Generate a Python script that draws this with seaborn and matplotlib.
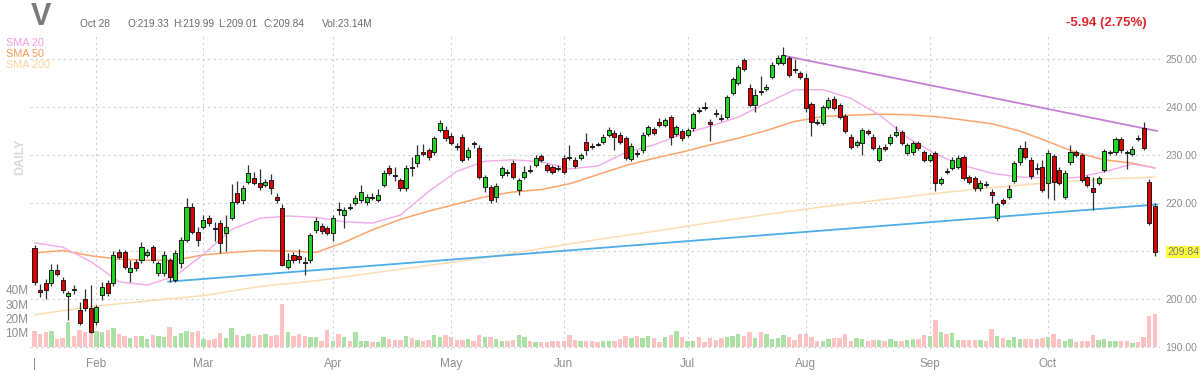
import numpy as np
import pandas as pd
import matplotlib
matplotlib.use("Agg")
import matplotlib.pyplot as plt
import seaborn as sns

# ---------------- data ----------------
ticker = "V"
start_date, end_date = "2021-01-14", "2021-10-28"
holidays = ["2021-01-18", "2021-02-15", "2021-04-02", "2021-05-31", "2021-07-05", "2021-09-06"]

opens = [210.6, 201.8, 203.3, 203.3, 206.0, 204.0, 200.6, 202.0, 197.7, 200.0,
         198.1, 195.2, 200.8, 203.3, 203.3, 209.8, 209.8, 205.6, 207.7, 208.1,
         209.2, 210.8, 205.4, 205.4, 208.1, 204.0, 207.5, 212.3, 219.2, 214.0,
         215.0, 216.9, 214.8, 215.8, 213.8, 216.9, 222.1, 220.6, 224.4, 225.2,
         224.2, 223.8, 224.8, 221.3, 219.0, 206.7, 209.2, 209.0, 207.8, 208.1,
         214.4, 215.2, 214.8, 213.8, 218.8, 217.5, 219.2, 220.0, 220.6, 220.2,
         221.3, 220.6, 223.8, 227.3, 225.8, 224.8, 223.1, 227.5, 228.3, 230.6,
         231.0, 230.6, 235.2, 235.2, 234.0, 231.8, 233.8, 229.6, 232.4, 231.5,
         223.3, 223.3, 221.3, 225.8, 226.4, 228.3, 222.7, 225.4, 226.9, 227.9,
         229.8, 227.9, 227.5, 227.3, 229.4, 229.6, 229.0, 229.4, 232.7, 231.9,
         232.3, 232.7, 234.2, 234.6, 234.2, 233.5, 229.2, 230.4, 231.0, 234.4,
         235.4, 236.9, 236.3, 237.9, 234.4, 235.0, 234.2, 235.6, 239.4, 240.0,
         236.9, 238.8, 237.7, 237.9, 242.9, 245.0, 249.8, 244.0, 240.4, 243.3,
         243.8, 246.3, 249.2, 249.2, 250.2, 247.9, 247.1, 246.0, 240.6, 236.9,
         236.7, 240.0, 241.7, 240.4, 238.1, 233.8, 232.1, 232.5, 235.0, 233.8,
         229.0, 231.7, 232.5, 234.2, 234.8, 230.4, 230.6, 232.5, 230.6, 229.0,
         230.4, 224.2, 226.7, 227.3, 227.5, 229.6, 225.4, 225.2, 223.1, 224.0,
         222.3, 216.9, 220.6, 221.3, 224.6, 228.5, 231.5, 229.0, 227.3, 227.5,
         224.2, 229.8, 226.9, 221.3, 228.5, 230.6, 230.0, 225.4, 223.1, 224.2,
         226.9, 230.4, 230.6, 233.3, 230.6, 230.2, 233.6, 235.6, 224.4, 219.33]
highs = [211.2, 203.2, 204.2, 207.3, 207.2, 204.5, 201.6, 203.0, 199.4, 202.0,
         202.9, 198.8, 203.5, 204.0, 210.0, 210.4, 210.3, 208.1, 208.4, 211.8,
         210.4, 211.3, 208.0, 210.0, 208.6, 210.2, 213.0, 221.0, 220.0, 215.0,
         217.5, 217.5, 216.0, 216.5, 217.5, 224.0, 224.5, 223.8, 228.0, 226.5,
         227.0, 225.0, 226.0, 222.0, 219.8, 209.5, 209.8, 210.5, 208.8, 213.8,
         217.0, 215.8, 215.3, 217.6, 220.3, 219.2, 220.0, 221.6, 223.8, 221.8,
         222.0, 223.0, 226.9, 228.0, 227.5, 225.3, 227.9, 229.6, 232.0, 232.3,
         231.5, 234.0, 237.3, 236.0, 234.6, 232.4, 234.3, 231.6, 233.0, 232.0,
         225.9, 223.8, 224.1, 227.8, 227.0, 228.9, 225.3, 227.8, 228.0, 229.9,
         230.3, 228.4, 228.0, 227.9, 229.9, 232.0, 229.5, 230.5, 234.5, 232.4,
         232.8, 234.3, 235.8, 235.3, 234.7, 234.0, 232.4, 231.0, 234.7, 236.3,
         235.9, 237.8, 237.8, 238.4, 236.3, 235.5, 235.7, 239.0, 240.0, 241.0,
         237.4, 239.5, 238.5, 242.6, 246.3, 248.8, 250.3, 244.8, 243.8, 246.5,
         244.7, 249.3, 250.8, 252.5, 250.7, 250.0, 247.6, 247.0, 241.1, 237.6,
         240.5, 242.0, 242.2, 240.9, 238.6, 234.3, 233.2, 235.7, 235.5, 234.3,
         232.0, 232.2, 234.3, 236.0, 235.3, 232.6, 233.0, 233.0, 231.1, 230.5,
         230.9, 225.5, 227.2, 229.5, 229.9, 230.1, 225.9, 225.7, 224.7, 224.5,
         223.0, 220.3, 221.1, 223.8, 228.8, 232.0, 232.9, 229.5, 228.3, 229.0,
         231.0, 230.3, 227.4, 226.8, 232.0, 231.1, 230.5, 225.9, 225.4, 225.7,
         231.3, 231.1, 233.8, 233.8, 231.1, 231.8, 234.1, 236.9, 224.9, 219.99]
lows = [203.0, 200.4, 200.0, 202.8, 204.8, 201.3, 195.6, 201.0, 194.6, 197.5,
        192.9, 194.6, 199.8, 200.6, 202.8, 208.3, 206.3, 203.5, 205.9, 207.6,
        208.7, 207.6, 204.8, 204.8, 203.6, 203.5, 206.5, 211.8, 213.5, 211.0,
        214.5, 215.3, 212.0, 209.5, 210.0, 216.5, 219.8, 219.8, 224.0, 223.8,
        222.8, 223.3, 221.8, 220.0, 206.8, 206.2, 207.6, 207.5, 205.0, 207.6,
        213.8, 213.5, 213.3, 212.0, 217.5, 214.8, 218.5, 219.5, 220.0, 219.6,
        220.6, 220.2, 223.3, 225.8, 224.5, 222.6, 222.6, 225.6, 227.5, 229.8,
        229.0, 230.1, 234.7, 233.0, 232.0, 231.0, 228.5, 229.0, 231.5, 225.0,
        222.2, 220.0, 220.3, 225.3, 225.6, 224.9, 221.6, 225.0, 226.2, 227.4,
        228.5, 226.4, 226.0, 226.7, 226.0, 229.0, 227.3, 228.9, 230.0, 231.2,
        231.8, 232.2, 233.7, 231.0, 232.2, 228.9, 228.7, 229.6, 230.5, 233.9,
        234.1, 235.8, 235.8, 232.0, 233.9, 233.0, 233.7, 235.1, 238.7, 239.3,
        233.0, 238.0, 237.0, 237.4, 242.4, 244.5, 247.4, 239.9, 239.0, 242.5,
        243.3, 245.8, 248.7, 248.7, 246.2, 247.0, 245.8, 239.0, 234.0, 236.2,
        236.2, 239.5, 239.3, 237.4, 234.5, 231.2, 231.6, 230.0, 234.1, 231.0,
        228.5, 230.8, 232.0, 233.7, 232.0, 229.9, 230.1, 231.0, 228.5, 228.5,
        222.5, 223.7, 226.0, 226.8, 227.0, 224.7, 223.9, 222.6, 222.6, 223.3,
        220.0, 216.3, 219.5, 220.8, 224.1, 228.0, 229.1, 225.1, 226.0, 222.2,
        221.0, 220.6, 223.7, 220.8, 228.0, 229.5, 224.3, 223.3, 218.5, 223.7,
        226.4, 229.9, 230.1, 230.5, 227.0, 229.7, 232.9, 231.0, 215.4, 209.01]
closes = [203.5, 201.5, 201.9, 206.0, 205.2, 201.9, 201.3, 201.8, 195.0, 198.1,
          193.1, 198.3, 202.5, 201.3, 209.2, 208.8, 206.7, 206.5, 206.5, 210.8,
          209.8, 208.1, 207.5, 209.2, 204.6, 209.6, 212.3, 219.2, 214.0, 212.3,
          216.5, 215.8, 214.6, 211.6, 215.0, 220.2, 220.2, 223.1, 226.3, 224.2,
          223.3, 224.4, 223.1, 220.6, 207.1, 208.1, 208.1, 208.3, 207.6, 213.3,
          216.3, 214.2, 213.8, 216.9, 218.6, 218.5, 219.0, 221.0, 222.3, 221.2,
          221.1, 221.7, 226.3, 226.3, 225.6, 223.1, 227.3, 227.3, 230.0, 230.2,
          229.6, 233.5, 236.7, 233.5, 232.5, 231.6, 229.0, 231.0, 232.2, 225.4,
          225.4, 220.6, 223.6, 227.3, 226.2, 225.4, 224.8, 226.5, 226.7, 229.4,
          229.0, 226.9, 226.5, 227.1, 226.5, 229.4, 227.8, 230.0, 231.0, 231.7,
          232.1, 233.8, 235.2, 233.8, 232.7, 229.4, 231.9, 230.2, 234.2, 235.8,
          234.6, 236.3, 237.3, 233.8, 235.8, 233.5, 235.2, 238.5, 239.2, 239.8,
          236.5, 238.6, 237.5, 242.1, 245.8, 248.3, 247.9, 240.4, 242.5, 243.1,
          244.2, 248.8, 250.2, 250.8, 246.7, 247.7, 246.3, 239.8, 236.9, 236.7,
          240.0, 241.5, 239.8, 237.9, 235.0, 231.7, 232.7, 235.2, 234.6, 231.5,
          231.5, 231.3, 233.8, 234.8, 232.5, 232.1, 232.5, 231.5, 229.0, 230.0,
          224.2, 225.0, 226.5, 229.0, 229.4, 225.2, 224.4, 223.1, 224.2, 223.8,
          221.7, 219.8, 220.0, 222.9, 228.3, 231.5, 229.6, 225.6, 227.1, 222.7,
          230.4, 224.4, 224.2, 226.3, 230.6, 230.0, 224.8, 223.8, 222.3, 225.2,
          230.8, 230.6, 233.3, 231.0, 230.4, 231.3, 233.4, 231.5, 215.78, 209.84]
volume_m = [11.4, 9.1, 10.2, 11.4, 5.7, 6.4, 17.7, 8.0, 11.8, 10.2,
            9.5, 11.4, 10.2, 11.8, 13.2, 9.1, 8.0, 6.4, 7.5, 7.5,
            5.7, 8.4, 8.0, 6.8, 14.1, 8.0, 9.5, 10.9, 10.2, 10.9,
            5.7, 5.0, 5.7, 9.5, 6.1, 13.2, 8.4, 7.5, 9.1, 8.0,
            8.6, 9.1, 8.0, 8.6, 30.0, 10.2, 8.0, 9.1, 8.0, 6.8,
            6.8, 4.5, 11.8, 4.5, 9.1, 6.8, 4.5, 10.2, 4.5, 4.5,
            3.4, 3.4, 6.8, 5.7, 5.0, 5.0, 8.0, 6.4, 5.0, 4.1,
            5.2, 8.6, 6.8, 8.6, 7.3, 5.0, 5.0, 5.7, 4.1, 8.4,
            6.8, 6.8, 5.7, 4.1, 4.5, 5.0, 8.6, 6.8, 4.5, 3.4,
            3.4, 3.4, 4.5, 4.5, 4.5, 8.4, 5.0, 4.5, 4.5, 3.9,
            3.4, 3.9, 4.1, 4.5, 5.7, 8.0, 6.1, 8.0, 6.4, 8.0,
            6.1, 3.4, 7.3, 8.4, 10.9, 6.8, 4.5, 3.9, 7.3, 3.4,
            6.1, 5.0, 6.6, 7.3, 8.0, 9.1, 8.0, 10.2, 6.6, 10.2,
            9.1, 5.7, 6.4, 8.4, 6.8, 5.0, 9.1, 9.1, 6.8, 4.5,
            4.1, 5.7, 6.4, 6.4, 9.1, 4.5, 6.4, 5.7, 4.1, 5.0,
            5.0, 4.5, 5.7, 4.5, 4.5, 5.0, 5.7, 5.7, 8.4, 7.5,
            18.6, 10.2, 9.1, 9.5, 5.0, 5.0, 5.0, 5.0, 5.0, 4.5,
            12.5, 8.0, 6.4, 5.0, 6.8, 5.7, 5.7, 5.7, 5.7, 6.4,
            7.3, 9.1, 5.7, 4.5, 5.7, 3.4, 4.5, 4.5, 8.6, 5.0,
            5.7, 4.5, 3.9, 4.5, 4.5, 2.7, 3.4, 6.8, 21.5, 23.14]

sma_step = 5
sma20 = [211.7, 210.8, 207.8, 203.6, 202.9, 204.8, 209.3, 214.5, 216.8, 217.3,
         217.0, 216.1, 215.8, 217.5, 222.4, 226.6, 228.7, 229.0, 228.6, 227.1,
         227.7, 230.5, 232.1, 234.3, 236.0, 237.9, 240.8, 243.6, 243.6, 241.8,
         238.4, 233.7, 230.2, 227.8, 226.2, 225.4, 225.2, 225.3, 226.5, 228.1, 227.3]
sma50 = [209.6, 210.1, 209.0, 208.3, 208.1, 208.1, 209.2, 209.7, 210.1, 210.0,
         209.7, 211.8, 214.4, 216.6, 218.3, 219.8, 221.3, 222.3, 222.8, 224.0,
         225.9, 227.8, 229.3, 230.6, 232.1, 233.5, 235.1, 237.0, 238.0, 238.3,
         238.5, 238.4, 238.0, 237.3, 236.5, 235.0, 232.8, 230.5, 229.0, 228.3, 227.3]
sma200_step = 10
sma200 = [196.7, 198.4, 199.6, 200.7, 202.6, 203.8, 205.4, 207.0, 208.6, 210.5,
          212.4, 214.1, 215.9, 217.6, 219.2, 220.6, 222.0, 223.2, 224.2, 225.0, 225.4]

resistance_idx = [133.0, 199.4]
resistance_val = [250.7, 235.0]
support_idx = [23.7, 199.4]
support_val = [203.6, 219.7]

price_ticks = [190, 200, 210, 220, 230, 240, 250]
volume_ticks = [10, 20, 30, 40]
change_text = "-5.94 (2.75%)"

# ---------------- derived ----------------
dates = pd.bdate_range(start_date, end_date)
dates = dates[~dates.isin(pd.to_datetime(holidays))]
n = len(closes)
idx = np.arange(n)
o = np.array(opens); h = np.array(highs); l = np.array(lows); c = np.array(closes)
up = c >= o

def sample_idx(step, count):
    s = list(range(0, n, step))
    if s[-1] != n - 1:
        s.append(n - 1)
    return s[:count]

# ---------------- style ----------------
sns.set_theme(style="white")
plt.rcParams["font.family"] = ["Liberation Sans", "DejaVu Sans"]

W, H = 1200, 375
fig = plt.figure(figsize=(W / 100, H / 100), dpi=100)
ax_left, ax_right, ax_top, ax_bot = 30, 1160, 35, 350
axv = fig.add_axes([ax_left / W, 1 - ax_bot / H, (ax_right - ax_left) / W, (ax_bot - ax_top) / H])
axp = axv.twinx()
for a in (axv, axp):
    for s in a.spines.values():
        s.set_visible(False)
    a.set_facecolor("none")

xlim = (-0.8, 199.9)
axv.set_xlim(*xlim)
axp.set_xlim(*xlim)

# price scale: 250 at y=59px, 4.8 px per unit
p_top = 250 + (59 - ax_top) / 4.8
p_bot = 250 - (ax_bot - 59) / 4.8
axp.set_ylim(p_bot, p_top)
# volume scale: 0 at y=347, 14.25 px per 10M
v_bot = -(ax_bot - 347) / 1.425
v_top = (347 - ax_top) / 1.425
axv.set_ylim(v_bot, v_top)

grid_kw = dict(color="#cfcfcf", lw=0.8, ls=(0, (2, 3)), zorder=0)

# month ticks
month_start = [i for i in range(1, n) if dates[i].month != dates[i - 1].month]
month_lbl = [dates[i].strftime("%b") for i in month_start]
for m in month_start:
    axp.axvline(m, **grid_kw)
for pt in price_ticks:
    axp.axhline(pt, **grid_kw)

# volume bars
vol_colors = np.where(up, "#a9e2a3", "#ffc2c2")
axv.bar(idx, volume_m, width=0.78, color=vol_colors, linewidth=0, zorder=1)
axv.set_yticks(volume_ticks)
axv.set_yticklabels([f"{v}M" for v in volume_ticks])
axv.yaxis.tick_left()
axv.tick_params(axis="y", length=0, pad=1, labelsize=8.5, labelcolor="#8f8f8f")
axv.set_xticks([0] + month_start)
axv.set_xticklabels(["|"] + month_lbl)
axv.tick_params(axis="x", length=0, pad=6, labelsize=8.5, labelcolor="#8f8f8f")
axv.grid(False)

# SMA lines (seaborn)
i20 = sample_idx(sma_step, len(sma20))
i200 = sample_idx(sma200_step, len(sma200))
sns.lineplot(x=i200, y=sma200, ax=axp, color="#fddcb0", lw=1.1, zorder=2)
sns.lineplot(x=i20, y=sma50, ax=axp, color="#ffa56b", lw=1.1, zorder=2)
sns.lineplot(x=i20, y=sma20, ax=axp, color="#f3a9ea", lw=1.0, zorder=2)

# trend lines
sns.lineplot(x=support_idx, y=support_val, ax=axp, color="#4aaee8", lw=1.3, zorder=3)
sns.lineplot(x=resistance_idx, y=resistance_val, ax=axp, color="#c77ddc", lw=1.3, zorder=3)

# candles
axp.vlines(idx, l, h, color="#333333", lw=0.9, zorder=4)
body_bot = np.minimum(o, c)
body_h = np.maximum(np.abs(c - o), 0.18)
body_col = np.where(up, "#22d422", "#dd0000")
axp.bar(idx, body_h, bottom=body_bot, width=0.72, color=body_col,
        edgecolor="#1a1a1a", linewidth=0.7, zorder=5)

# price axis labels
axp.set_yticks(price_ticks)
last = closes[-1]
axp.set_yticklabels(["" if abs(t - last) < 3 else f"{t:.2f}" for t in price_ticks])
axp.yaxis.tick_right()
axp.tick_params(axis="y", length=0, pad=4, labelsize=7.5, labelcolor="#8f8f8f")
axp.grid(False)
axp.set_ylabel(""); axv.set_ylabel(""); axp.set_xlabel(""); axv.set_xlabel("")
axp.annotate(f"{last:.2f}", xy=(1.0, last), xycoords=axp.get_yaxis_transform(),
             xytext=(5, 0), textcoords="offset points",
             ha="left", va="center", fontsize=7.5, color="#7a7a7a",
             bbox=dict(boxstyle="square,pad=0.12", fc="#ffff3a", ec="none"),
             zorder=10, annotation_clip=False)

# header
def ftxt(x, y, s, **kw):
    fig.text(x / W, 1 - y / H, s, va="center", **kw)

hdr = dict(fontsize=7.3, color="#6b6b6b")
ftxt(31, 17, ticker, fontsize=22, fontweight="bold", color="#7b7b7b")
ftxt(80, 24, dates[-1].strftime("%b %d").replace(" 0", " "), **hdr)
ftxt(127, 24, f"O:{opens[-1]:.2f}", **hdr)
ftxt(173, 24, f"H:{highs[-1]:.2f}", **hdr)
ftxt(218, 24, f"L:{lows[-1]:.2f}", **hdr)
ftxt(263, 24, f"C:{closes[-1]:.2f}", **hdr)
ftxt(322, 24, f"Vol:{volume_m[-1]:.2f}M", **hdr)
ftxt(1147, 23, change_text, ha="right", fontsize=9.5, fontweight="bold", color="#e0262b")
ftxt(6, 43, "SMA 20", fontsize=7.8, color="#f59be3")
ftxt(6, 54, "SMA 50", fontsize=7.8, color="#ff9a52")
ftxt(6, 65, "SMA 200", fontsize=7.8, color="#fcd49a")
ftxt(20, 157, "DAILY", ha="center", rotation=90, fontsize=9, fontweight="bold", color="#dadada")

fig.savefig("out.png", dpi=100)
